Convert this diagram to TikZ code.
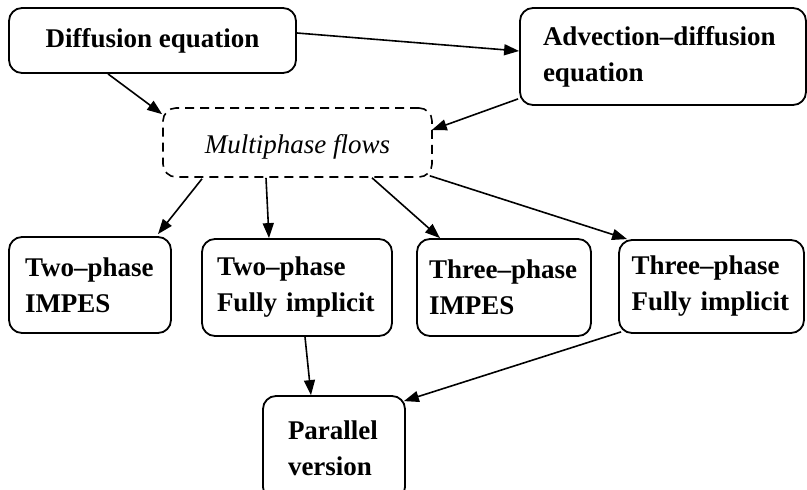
\documentclass[tikz,border=0pt]{standalone}
\usepackage{fontspec}
\setmainfont{Liberation Serif}
\usetikzlibrary{arrows.meta,calc}
\begin{document}
\begin{tikzpicture}[x=1pt,y=-1pt,
  box/.style={draw, line width=1.8pt, rounded corners=13pt, inner ysep=0pt, align=left,
    font=\fontsize{27}{36}\selectfont\bfseries},
  dbox/.style={draw, line width=1.6pt, rounded corners=13pt, dash pattern=on 9pt off 6pt,
    font=\fontsize{27}{36}\selectfont\itshape},
  arr/.style={line width=1.6pt, -{Triangle[length=15pt,width=11pt]}}]
\useasboundingbox (0,0) rectangle (807,490);
\clip (0,0) rectangle (807,490);

\node[box, align=center, minimum width=287pt, minimum height=65pt] (diff) at (152.5,40.5) {Diffusion equation};
\node[box, text width=240pt, inner xsep=23pt, minimum height=97pt] (adv) at (663,56.5) {Advection–diffusion\\equation};
\node[dbox, minimum width=269pt, minimum height=69pt, text height=24pt, text depth=3pt] (multi) at (297.5,142.5) {Multiphase flows};

\node[box, text width=130pt, inner xsep=16pt, minimum height=96pt] (tpi) at (90,285) {Two–phase\\IMPES};
\node[box, text width=160pt, inner xsep=15pt, minimum height=97pt] (tpf) at (297,287.5) {Two–phase\\Fully implicit};
\node[box, text width=150pt, inner xsep=12pt, minimum height=97pt] (thi) at (504,287.5) {Three–phase\\IMPES};
\node[box, text width=160pt, inner xsep=12.5pt, minimum height=93pt] (thf) at (711.5,286.5) {Three–phase\\Fully implicit};
\node[box, text width=92pt, inner xsep=25pt, minimum height=104pt] (par) at (334,448) {Parallel\\version};

\draw[arr] ($(diff.south)+(-44.5,0)$) -- ($(multi.north west)+(0,7)$);
\draw[arr] ($(diff.east)+(0,-7.5)$) -- ($(adv.west)+(0,-5.5)$);
\draw[arr] ($(adv.south west)+(-1,-7)$) -- ($(multi.east)+(-1,-12.5)$);
\draw[arr] ($(multi.south)+(-95.5,1)$) -- ($(tpi.north)+(68,-2)$);
\draw[arr] ($(multi.south)+(-31.5,0)$) -- ($(tpf.north)+(-28,0)$);
\draw[arr] ($(multi.south)+(74.5,0)$) -- ($(thi.north)+(-64,0)$);
\draw[arr] ($(multi.south east)+(-3,-2)$) -- ($(thf.north west)+(9,0)$);
\draw[arr] ($(tpf.south)+(8,0)$) -- ($(par.north)+(-23,0)$);
\draw[arr] ($(thf.south west)+(3,-2)$) -- ($(par.north east)+(-2,6)$);
\end{tikzpicture}
\end{document}
